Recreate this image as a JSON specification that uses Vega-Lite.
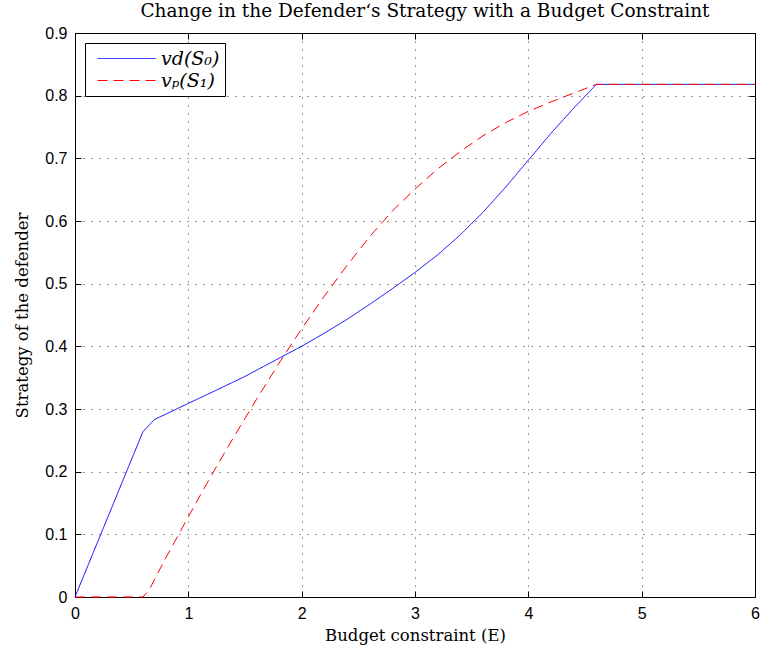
{
  "$schema": "https://vega.github.io/schema/vega-lite/v6.json",
  "autosize": "none",
  "padding": {"left": 75, "top": 33, "right": 7, "bottom": 61},
  "width": 680,
  "height": 564,
  "background": "white",
  "title": {
    "text": "Change in the Defender‘s Strategy with a Budget Constraint",
    "font": "DejaVu Serif",
    "fontSize": 18.5,
    "fontWeight": "normal",
    "color": "black",
    "offset": 5,
    "dx": 10
  },
  "data": {
    "values": [
      {"series": "vd(S₀)", "E": 0, "v": 0},
      {"series": "vd(S₀)", "E": 0.6, "v": 0.264},
      {"series": "vd(S₀)", "E": 0.7, "v": 0.283},
      {"series": "vd(S₀)", "E": 1.0, "v": 0.309},
      {"series": "vd(S₀)", "E": 1.2, "v": 0.326},
      {"series": "vd(S₀)", "E": 1.5, "v": 0.352},
      {"series": "vd(S₀)", "E": 1.8, "v": 0.381},
      {"series": "vd(S₀)", "E": 2.0, "v": 0.400},
      {"series": "vd(S₀)", "E": 2.2, "v": 0.421},
      {"series": "vd(S₀)", "E": 2.4, "v": 0.443},
      {"series": "vd(S₀)", "E": 2.6, "v": 0.467},
      {"series": "vd(S₀)", "E": 2.8, "v": 0.492},
      {"series": "vd(S₀)", "E": 3.0, "v": 0.518},
      {"series": "vd(S₀)", "E": 3.2, "v": 0.546},
      {"series": "vd(S₀)", "E": 3.4, "v": 0.578},
      {"series": "vd(S₀)", "E": 3.6, "v": 0.614},
      {"series": "vd(S₀)", "E": 3.8, "v": 0.654},
      {"series": "vd(S₀)", "E": 4.0, "v": 0.697},
      {"series": "vd(S₀)", "E": 4.2, "v": 0.740},
      {"series": "vd(S₀)", "E": 4.4, "v": 0.780},
      {"series": "vd(S₀)", "E": 4.6, "v": 0.818},
      {"series": "vd(S₀)", "E": 6.0, "v": 0.818},
      {"series": "vₚ(S₁)", "E": 0, "v": 0},
      {"series": "vₚ(S₁)", "E": 0.6, "v": 0},
      {"series": "vₚ(S₁)", "E": 0.65, "v": 0.01},
      {"series": "vₚ(S₁)", "E": 0.8, "v": 0.062},
      {"series": "vₚ(S₁)", "E": 1.0, "v": 0.128},
      {"series": "vₚ(S₁)", "E": 1.2, "v": 0.193},
      {"series": "vₚ(S₁)", "E": 1.4, "v": 0.255},
      {"series": "vₚ(S₁)", "E": 1.6, "v": 0.315},
      {"series": "vₚ(S₁)", "E": 1.8, "v": 0.373},
      {"series": "vₚ(S₁)", "E": 2.0, "v": 0.428},
      {"series": "vₚ(S₁)", "E": 2.2, "v": 0.480},
      {"series": "vₚ(S₁)", "E": 2.4, "v": 0.529},
      {"series": "vₚ(S₁)", "E": 2.6, "v": 0.575},
      {"series": "vₚ(S₁)", "E": 2.8, "v": 0.616},
      {"series": "vₚ(S₁)", "E": 3.0, "v": 0.651},
      {"series": "vₚ(S₁)", "E": 3.2, "v": 0.683},
      {"series": "vₚ(S₁)", "E": 3.4, "v": 0.711},
      {"series": "vₚ(S₁)", "E": 3.6, "v": 0.736},
      {"series": "vₚ(S₁)", "E": 3.8, "v": 0.757},
      {"series": "vₚ(S₁)", "E": 4.0, "v": 0.775},
      {"series": "vₚ(S₁)", "E": 4.2, "v": 0.790},
      {"series": "vₚ(S₁)", "E": 4.4, "v": 0.804},
      {"series": "vₚ(S₁)", "E": 4.6, "v": 0.818},
      {"series": "vₚ(S₁)", "E": 6.0, "v": 0.818}
    ]
  },
  "layer": [
    {
      "mark": {"type": "line", "strokeWidth": 1, "opacity": 0},
      "encoding": {
        "x": {"field": "E", "type": "quantitative", "scale": {"domain": [0, 6], "nice": false},
          "axis": {"orient": "top", "values": [0, 1, 2, 3, 4, 5, 6], "labels": false, "ticks": true, "grid": false, "title": null, "domain": false}},
        "y": {"field": "v", "type": "quantitative", "scale": {"domain": [0, 0.9], "nice": false},
          "axis": {"orient": "right", "values": [0, 0.1, 0.2, 0.3, 0.4, 0.5, 0.6, 0.7, 0.8, 0.9], "labels": false, "ticks": true, "grid": false, "title": null, "domain": false}},
        "detail": {"field": "series"}
      }
    },
    {
      "mark": {"type": "line", "strokeWidth": 1},
      "encoding": {
        "x": {"field": "E", "type": "quantitative", "scale": {"domain": [0, 6], "nice": false},
          "axis": {"orient": "bottom", "values": [0, 1, 2, 3, 4, 5, 6], "title": "Budget constraint (E)", "grid": true, "ticks": true, "labelFlush": false, "labelPadding": 14, "titlePadding": 6, "domain": false}},
        "y": {"field": "v", "type": "quantitative", "scale": {"domain": [0, 0.9], "nice": false},
          "axis": {"orient": "left", "values": [0, 0.1, 0.2, 0.3, 0.4, 0.5, 0.6, 0.7, 0.8, 0.9], "format": "~g", "title": "Strategy of the defender", "grid": true, "ticks": true, "labelFlush": false, "labelPadding": 14, "titlePadding": 14, "domain": false}},
        "color": {"field": "series", "type": "nominal", "scale": {"domain": ["vd(S₀)", "vₚ(S₁)"], "range": ["#0000ff", "#ff0000"]}, "legend": {"title": null}},
        "strokeDash": {"field": "series", "type": "nominal", "scale": {"domain": ["vd(S₀)", "vₚ(S₁)"], "range": [[1, 0], [10, 6]]}, "legend": {"title": null}}
      }
    }
  ],
  "resolve": {"axis": {"x": "independent", "y": "independent"}},
  "config": {
    "view": {"stroke": "black", "strokeWidth": 1},
    "axis": {
      "tickColor": "black",
      "tickSize": -6,
      "tickWidth": 1,
      "labelFont": "Liberation Sans",
      "labelFontSize": 16,
      "labelColor": "black",
      "titleFont": "DejaVu Serif",
      "titleFontSize": 16.5,
      "titleFontWeight": "normal",
      "titleColor": "black",
      "gridColor": "black",
      "gridDash": [1, 7],
      "gridOpacity": 0.8
    },
    "legend": {
      "orient": "top-left",
      "offset": 10,
      "strokeColor": "black",
      "fillColor": "white",
      "padding": 5,
      "symbolType": "M-2.9,0H2.9",
      "symbolSize": 400,
      "symbolOffset": 26,
      "symbolStrokeWidth": 1,
      "labelFont": "DejaVu Serif",
      "labelFontStyle": "italic",
      "labelFontSize": 19,
      "labelColor": "black",
      "labelOffset": 24,
      "rowPadding": 1
    }
  }
}
